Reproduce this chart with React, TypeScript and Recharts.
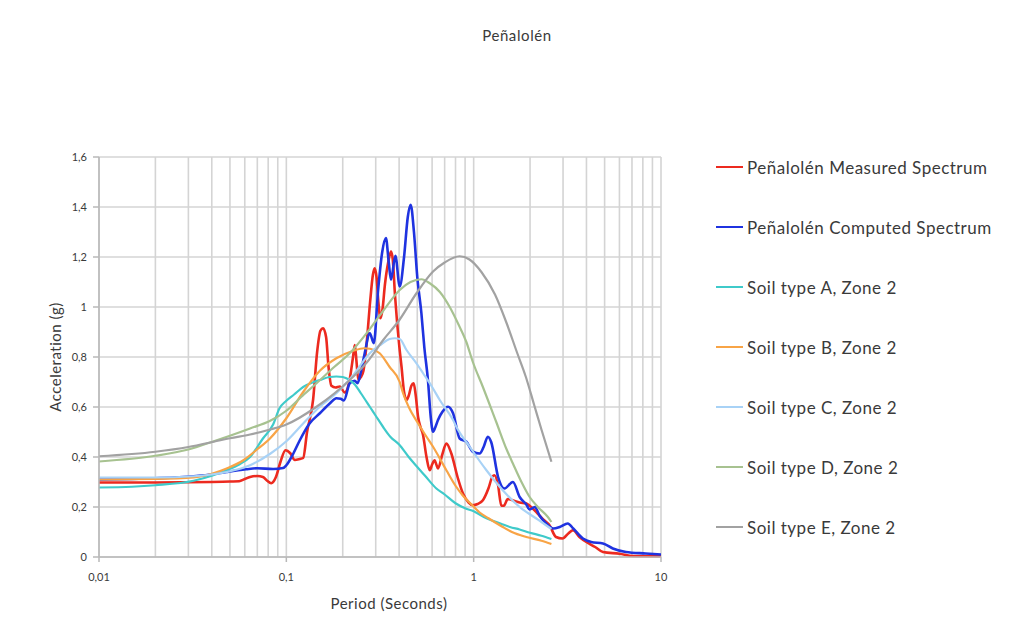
import React from 'react';
import { LineChart, Line, XAxis, YAxis, CartesianGrid } from 'recharts';

// Periods (s) and spectral accelerations (g) for each spectrum
const measuredT = [0.01, 0.02, 0.03, 0.04, 0.05, 0.056, 0.06, 0.064, 0.07, 0.075, 0.079, 0.083, 0.088, 0.093, 0.099, 0.105, 0.111, 0.118, 0.123, 0.129, 0.139, 0.146, 0.152, 0.157, 0.163, 0.168, 0.174, 0.183, 0.193, 0.205, 0.219, 0.227, 0.232, 0.237, 0.242, 0.25, 0.258, 0.268, 0.28, 0.29, 0.296, 0.303, 0.31, 0.318, 0.326, 0.336, 0.35, 0.362, 0.37, 0.38, 0.39, 0.4, 0.412, 0.425, 0.438, 0.45, 0.465, 0.478, 0.49, 0.505, 0.52, 0.536, 0.56, 0.583, 0.6, 0.619, 0.632, 0.645, 0.68, 0.715, 0.76, 0.82, 0.877, 0.94, 0.99, 1.05, 1.12, 1.2, 1.26, 1.29, 1.35, 1.405, 1.45, 1.52, 1.6, 1.76, 1.9, 1.99, 2.16, 2.35, 2.54, 2.75, 2.98, 3.2, 3.39, 3.67, 4.1, 4.45, 4.9, 6, 7.1, 10];
const measuredSa = [0.298, 0.298, 0.299, 0.3, 0.302, 0.303, 0.312, 0.32, 0.324, 0.32, 0.305, 0.295, 0.32, 0.38, 0.427, 0.415, 0.388, 0.392, 0.396, 0.5, 0.63, 0.82, 0.905, 0.915, 0.88, 0.76, 0.685, 0.678, 0.682, 0.658, 0.72, 0.8, 0.848, 0.78, 0.71, 0.72, 0.745, 0.85, 1.02, 1.13, 1.155, 1.12, 1.02, 0.955, 0.99, 1.09, 1.18, 1.222, 1.19, 1.05, 0.94, 0.85, 0.761, 0.66, 0.628, 0.645, 0.685, 0.695, 0.65, 0.56, 0.52, 0.49, 0.4, 0.347, 0.37, 0.387, 0.37, 0.354, 0.41, 0.454, 0.414, 0.32, 0.254, 0.218, 0.207, 0.212, 0.227, 0.275, 0.322, 0.327, 0.287, 0.205, 0.205, 0.232, 0.228, 0.218, 0.215, 0.205, 0.18, 0.15, 0.127, 0.08, 0.074, 0.094, 0.107, 0.08, 0.055, 0.04, 0.02, 0.013, 0.004, 0.003];

const computedT = [0.01, 0.02, 0.032, 0.04, 0.048, 0.061, 0.07, 0.085, 0.096, 0.1, 0.109, 0.118, 0.133, 0.151, 0.171, 0.185, 0.195, 0.203, 0.218, 0.232, 0.24, 0.25, 0.262, 0.279, 0.293, 0.309, 0.325, 0.34, 0.352, 0.362, 0.382, 0.403, 0.425, 0.445, 0.461, 0.48, 0.5, 0.526, 0.545, 0.57, 0.59, 0.607, 0.625, 0.645, 0.68, 0.73, 0.776, 0.842, 0.914, 0.99, 1.076, 1.13, 1.19, 1.24, 1.35, 1.46, 1.62, 1.76, 1.91, 1.99, 2.12, 2.25, 2.44, 2.66, 2.88, 3.18, 3.4, 3.83, 4.24, 4.9, 5.53, 6.5, 8.3, 10];
const computedSa = [0.31, 0.315, 0.323, 0.33, 0.34, 0.351, 0.355, 0.352, 0.356, 0.367, 0.414, 0.467, 0.534, 0.575, 0.615, 0.635, 0.633, 0.626, 0.695, 0.705, 0.695, 0.74, 0.815, 0.895, 0.855, 1.068, 1.22, 1.276, 1.18, 1.109, 1.205, 1.082, 1.2, 1.36, 1.409, 1.3, 1.12, 0.975, 0.84, 0.708, 0.56, 0.501, 0.52, 0.548, 0.58, 0.601, 0.575, 0.474, 0.461, 0.421, 0.414, 0.44, 0.481, 0.46, 0.32, 0.274, 0.3, 0.24, 0.21, 0.19, 0.2, 0.165, 0.134, 0.114, 0.12, 0.134, 0.114, 0.074, 0.06, 0.054, 0.034, 0.02, 0.014, 0.01];

const soilAT = [0.01, 0.015, 0.02, 0.032, 0.04, 0.048, 0.056, 0.064, 0.075, 0.085, 0.092, 0.1, 0.11, 0.123, 0.14, 0.151, 0.17, 0.185, 0.2, 0.209, 0.22, 0.232, 0.25, 0.279, 0.3, 0.328, 0.36, 0.4, 0.45, 0.5, 0.55, 0.63, 0.7, 0.8, 0.9, 1.0, 1.17, 1.4, 1.56, 1.76, 2.0, 2.3, 2.6];
const soilASa = [0.278, 0.281, 0.287, 0.305, 0.325, 0.347, 0.37, 0.4, 0.474, 0.53, 0.595, 0.625, 0.65, 0.68, 0.7, 0.708, 0.72, 0.722, 0.72, 0.715, 0.705, 0.69, 0.655, 0.601, 0.565, 0.521, 0.48, 0.45, 0.4, 0.36, 0.325, 0.275, 0.25, 0.215, 0.195, 0.183, 0.155, 0.133, 0.12, 0.11, 0.097, 0.085, 0.072];

const soilBT = [0.01, 0.02, 0.032, 0.04, 0.048, 0.059, 0.069, 0.082, 0.1, 0.123, 0.151, 0.185, 0.228, 0.26, 0.28, 0.315, 0.356, 0.403, 0.42, 0.45, 0.5, 0.55, 0.607, 0.715, 0.8, 0.877, 0.99, 1.076, 1.2, 1.43, 1.6, 1.91, 2.3, 2.6];
const soilBSa = [0.31, 0.312, 0.318, 0.333, 0.354, 0.387, 0.427, 0.475, 0.555, 0.66, 0.745, 0.795, 0.825, 0.835, 0.833, 0.815, 0.76, 0.7, 0.655, 0.6, 0.54, 0.49, 0.441, 0.347, 0.285, 0.245, 0.205, 0.178, 0.155, 0.12, 0.1, 0.08, 0.065, 0.052];

const soilCT = [0.01, 0.02, 0.032, 0.048, 0.064, 0.082, 0.1, 0.123, 0.151, 0.185, 0.228, 0.279, 0.32, 0.356, 0.38, 0.403, 0.438, 0.5, 0.537, 0.6, 0.659, 0.776, 0.808, 0.952, 1.17, 1.43, 1.76, 2.16, 2.3, 2.6];
const soilCSa = [0.318, 0.318, 0.323, 0.34, 0.367, 0.413, 0.463, 0.534, 0.601, 0.655, 0.728, 0.815, 0.85, 0.872, 0.875, 0.872, 0.828, 0.77, 0.735, 0.68, 0.628, 0.548, 0.521, 0.441, 0.347, 0.267, 0.2, 0.154, 0.14, 0.112];

const soilDT = [0.01, 0.02, 0.03, 0.041, 0.05, 0.064, 0.082, 0.1, 0.12, 0.145, 0.18, 0.218, 0.268, 0.329, 0.403, 0.46, 0.526, 0.583, 0.66, 0.745, 0.83, 0.914, 0.99, 1.12, 1.32, 1.5, 1.62, 1.8, 1.99, 2.2, 2.49, 2.6];
const soilDSa = [0.382, 0.405, 0.43, 0.463, 0.485, 0.514, 0.545, 0.585, 0.64, 0.695, 0.76, 0.815, 0.895, 0.985, 1.068, 1.1, 1.111, 1.095, 1.06, 1.0, 0.93, 0.86, 0.78, 0.68, 0.54, 0.43, 0.374, 0.3, 0.24, 0.2, 0.16, 0.14];

const soilET = [0.01, 0.02, 0.03, 0.041, 0.05, 0.064, 0.082, 0.1, 0.145, 0.218, 0.27, 0.329, 0.403, 0.495, 0.607, 0.7, 0.842, 0.95, 1.1, 1.3, 1.5, 1.7, 1.9, 2.1, 2.3, 2.6];
const soilESa = [0.403, 0.421, 0.44, 0.461, 0.475, 0.49, 0.51, 0.53, 0.601, 0.708, 0.78, 0.868, 0.95, 1.055, 1.142, 1.178, 1.203, 1.19, 1.14, 1.05, 0.935, 0.82, 0.72, 0.61, 0.51, 0.381];

// Axis ticks
const xGridTicks = [0.01, 0.02, 0.03, 0.04, 0.05, 0.06, 0.07, 0.08, 0.09, 0.1, 0.2, 0.3, 0.4, 0.5, 0.6, 0.7, 0.8, 0.9, 1, 2, 3, 4, 5, 6, 7, 8, 9, 10];
const xLabelTicks = [0.01, 0.1, 1, 10];
const xTickLabels = ['0,01', '0,1', '1', '10'];
const yTicks = [0, 0.2, 0.4, 0.6, 0.8, 1, 1.2, 1.4, 1.6];

const seriesNames = [
  'Peñalolén Measured Spectrum',
  'Peñalolén Computed Spectrum',
  'Soil type A, Zone 2',
  'Soil type B, Zone 2',
  'Soil type C, Zone 2',
  'Soil type D, Zone 2',
  'Soil type E, Zone 2',
];

const toRows = (t: number[], sa: number[]) => t.map((v, i) => ({ t: v, sa: sa[i] }));

const series = [
  { name: seriesNames[0], rows: toRows(measuredT, measuredSa), color: '#ec2a1f', width: 2.6 },
  { name: seriesNames[1], rows: toRows(computedT, computedSa), color: '#1f33e0', width: 2.6 },
  { name: seriesNames[2], rows: toRows(soilAT, soilASa), color: '#3fcaca', width: 2.2 },
  { name: seriesNames[3], rows: toRows(soilBT, soilBSa), color: '#f8a446', width: 2.2 },
  { name: seriesNames[4], rows: toRows(soilCT, soilCSa), color: '#a8d2f6', width: 2.2 },
  { name: seriesNames[5], rows: toRows(soilDT, soilDSa), color: '#a7c290', width: 2.2 },
  { name: seriesNames[6], rows: toRows(soilET, soilESa), color: '#a2a2a2', width: 2.2 },
];

const FONT = 'Lato, "Open Sans", sans-serif';
const TEXT = '#3a3a3a';
const AXIS = '#b8b8b8';

const XTick = (props: any) => {
  const { x, y, payload } = props;
  const idx = xLabelTicks.findIndex((v) => Math.abs(v - payload.value) < 1e-9);
  if (idx < 0) return null;
  return (
    <g>
      <line x1={x} x2={x} y1={y} y2={y + 5} stroke={AXIS} strokeWidth={1.5} />
      <text x={x} y={y + 24} textAnchor="middle" fontSize={11} fontFamily={FONT} fill={TEXT}>
        {xTickLabels[idx]}
      </text>
    </g>
  );
};

const yFormat = (v: number) => String(Math.round(v * 10) / 10).replace('.', ',');

export default function App() {
  return (
    <div style={{ position: 'absolute', left: 0, top: 0, width: 1025, height: 642, background: '#fff' }}>
      <LineChart
        width={1025}
        height={642}
        margin={{ top: 157, right: 364, bottom: 55, left: 39 }}
      >
        <CartesianGrid stroke="#d4d4d4" strokeWidth={1.6} ticks={xGridTicks as any} />
        <XAxis
          dataKey="t"
          type="number"
          scale="log"
          domain={[0.01, 10]}
          ticks={xGridTicks}
          interval={0}
          allowDataOverflow
          height={30}
          stroke={AXIS}
          strokeWidth={1.5}
          tickLine={false}
          tickSize={0}
          tickMargin={0}
          tick={<XTick />}
        />
        <YAxis
          type="number"
          domain={[0, 1.6]}
          ticks={yTicks}
          interval={0}
          width={60}
          stroke={AXIS}
          strokeWidth={1.5}
          tickSize={6}
          tickMargin={6}
          tickFormatter={yFormat}
          tick={{ fontSize: 11, fontFamily: FONT, fill: TEXT }}
        />
        {series.map((s) => (
          <Line
            key={s.name}
            data={s.rows}
            dataKey="sa"
            name={s.name}
            type="monotone"
            stroke={s.color}
            strokeWidth={s.width}
            dot={false}
            activeDot={false}
            isAnimationActive={false}
          />
        ))}
        <text x={517} y={41} textAnchor="middle" fontSize={15} letterSpacing={0.6} fontFamily={FONT} fill={TEXT}>
          Peñalolén
        </text>
        <text
          x={61}
          y={357}
          textAnchor="middle"
          fontSize={15}
          letterSpacing={0.5}
          fontFamily={FONT}
          fill={TEXT}
          transform="rotate(-90 61 357)"
        >
          Acceleration (g)
        </text>
        <text x={389} y={609} textAnchor="middle" fontSize={15} letterSpacing={0.5} fontFamily={FONT} fill={TEXT}>
          Period (Seconds)
        </text>
      </LineChart>
      <div style={{ position: 'absolute', left: 716, top: 157, fontFamily: FONT }}>
        {series.map((s) => (
          <div key={s.name} style={{ display: 'flex', alignItems: 'center', height: 20, marginBottom: 40 }}>
            <div style={{ width: 27, height: 2.5, background: s.color, marginRight: 4 }} />
            <span style={{ fontSize: 17, letterSpacing: 0.5, color: TEXT, whiteSpace: 'nowrap' }}>{s.name}</span>
          </div>
        ))}
      </div>
    </div>
  );
}
